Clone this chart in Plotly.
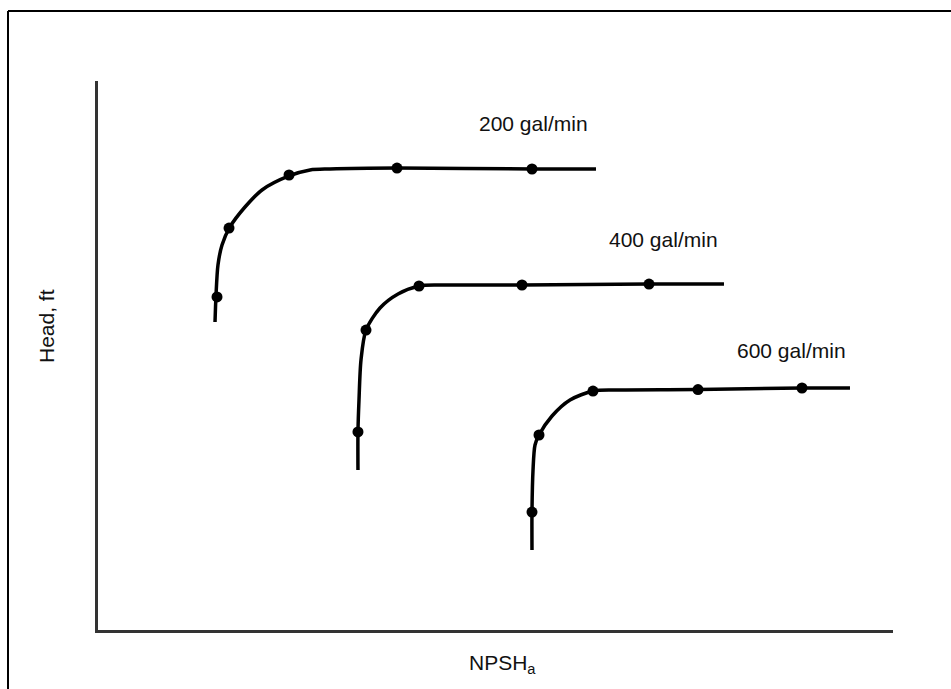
import plotly.graph_objects as go

# ---- data (arbitrary units: NPSHa on x, head on y) ----
flow_labels = ["200 gal/min", "400 gal/min", "600 gal/min"]

# traced curve paths
c200_x = [14.72, 14.84, 15.09, 15.60, 16.60, 18.49, 20.63, 24.03, 26.67, 29.18, 37.61, 54.72, 62.64]
c200_y = [56.10, 60.84, 66.48, 70.13, 73.41, 77.05, 80.15, 82.70, 83.79, 83.97, 84.15, 83.97, 83.97]
c400_x = [32.70, 32.70, 32.83, 33.08, 33.71, 35.47, 37.74, 40.38, 43.02, 53.33, 69.31, 78.74]
c400_y = [29.14, 36.07, 41.89, 49.18, 54.64, 58.65, 61.20, 62.66, 62.84, 62.84, 63.02, 63.02]
c600_x = [54.59, 54.59, 54.72, 54.97, 55.47, 57.11, 59.37, 62.26, 65.03, 75.47, 88.55, 94.59]
c600_y = [14.57, 21.49, 29.14, 33.70, 35.52, 38.98, 41.89, 43.53, 43.72, 43.80, 44.08, 44.08]

# measured points
p200_x = [14.97, 16.48, 24.03, 37.61, 54.59]
p200_y = [60.66, 73.22, 82.88, 84.15, 83.97]
p400_x = [32.70, 33.71, 40.38, 53.33, 69.31]
p400_y = [36.07, 54.64, 62.66, 62.84, 63.02]
p600_x = [54.59, 55.47, 62.26, 75.47, 88.55]
p600_y = [21.49, 35.52, 43.53, 43.80, 44.08]

label_x = [54.84, 71.19, 87.17]
label_y = [92.17, 71.22, 51.00]

FONT = "Liberation Sans, Arial, sans-serif"

fig = go.Figure()
curves = [(c200_x, c200_y, p200_x, p200_y), (c400_x, c400_y, p400_x, p400_y), (c600_x, c600_y, p600_x, p600_y)]
for (cx, cy, px, py), name in zip(curves, flow_labels):
    fig.add_trace(go.Scatter(x=cx, y=cy, mode="lines", line=dict(color="black", width=3.5, shape="spline", smoothing=0.8),
                             name=name, showlegend=False, hoverinfo="skip"))
    fig.add_trace(go.Scatter(x=px, y=py, mode="markers", marker=dict(color="black", size=11),
                             name=name, showlegend=False))

for lx, ly, t in zip(label_x, label_y, flow_labels):
    fig.add_annotation(x=lx, y=ly, text=t, showarrow=False, xanchor="center", yanchor="middle",
                       font=dict(family=FONT, size=21, color="#111"))

# page geometry (pixel positions converted to paper coords)
L, R, T, B = 98, 893, 81, 630
def px_x(p): return (p - L) / (R - L)
def px_y(p): return (B - p) / (B - T)

# axis titles
fig.add_annotation(xref="paper", yref="paper", x=px_x(502), y=px_y(664), text="NPSH<sub>a</sub>", showarrow=False,
                   xanchor="center", yanchor="middle", font=dict(family=FONT, size=21, color="#111"))
fig.add_annotation(xref="paper", yref="paper", x=px_x(46), y=px_y(326), text="Head, ft", showarrow=False,
                   textangle=-90, xanchor="center", yanchor="middle", font=dict(family=FONT, size=21, color="#111"))

# page frame
fig.add_shape(type="line", xref="paper", yref="paper", x0=px_x(8), x1=px_x(951), y0=px_y(11), y1=px_y(11),
              line=dict(color="black", width=2))
fig.add_shape(type="line", xref="paper", yref="paper", x0=px_x(8), x1=px_x(8), y0=px_y(11), y1=px_y(689),
              line=dict(color="black", width=2))

fig.update_xaxes(range=[0, 100], showline=True, linecolor="#333", linewidth=3, showgrid=False, zeroline=False,
                 showticklabels=False, ticks="")
fig.update_yaxes(range=[0, 100], showline=True, linecolor="#333", linewidth=3, showgrid=False, zeroline=False,
                 showticklabels=False, ticks="")
fig.update_layout(width=951, height=689, margin=dict(l=L, r=951 - R, t=T, b=689 - B),
                  plot_bgcolor="white", paper_bgcolor="white", showlegend=False)

fig.write_html("out.html")
